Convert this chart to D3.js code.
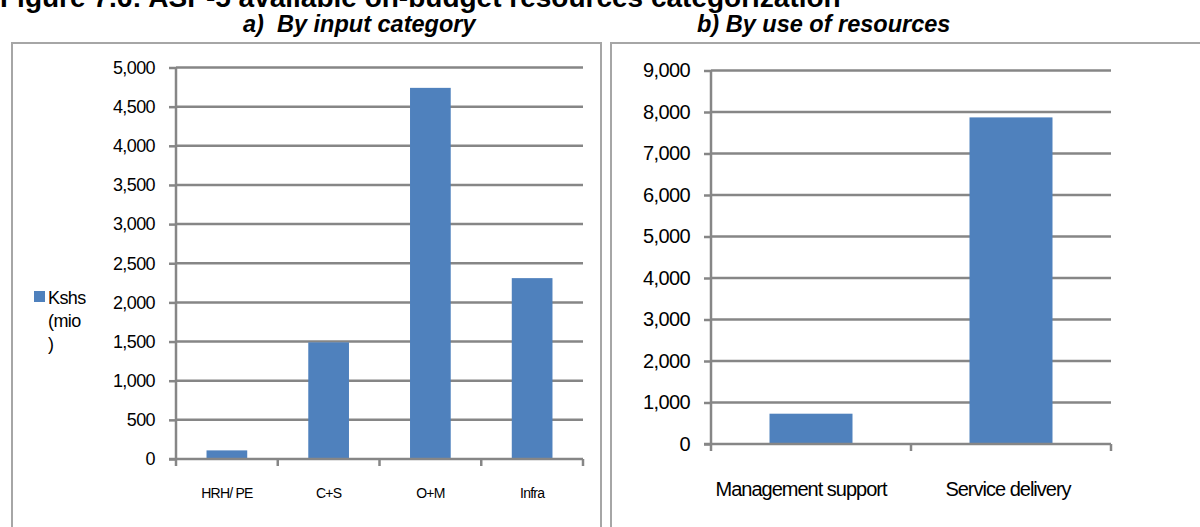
<!DOCTYPE html>
<html lang="en">
<head>
    <meta charset="UTF-8">
    <title>ASP-5 on-budget resources</title>
    <script src="https://d3js.org/d3.v7.min.js"></script>
    <style>
        body { margin: 0; background: #fff; }
        svg text { font-family: "Liberation Sans", Arial, sans-serif; fill: #000; }
        .title { font-weight: bold; font-size: 28px; }
        .sub { font-weight: bold; font-style: italic; font-size: 23.5px; }
    </style>
</head>
<body>
    <div id="chart"></div>
    <script>
        // Data
        const inputCats = ["HRH/ PE", "C+S", "O+M", "Infra"];
        const inputVals = [110, 1490, 4740, 2310];
        const inputTicks = [0, 500, 1000, 1500, 2000, 2500, 3000, 3500, 4000, 4500, 5000];

        const useCats = ["Management support", "Service delivery"];
        const useVals = [730, 7870];
        const useTicks = [0, 1000, 2000, 3000, 4000, 5000, 6000, 7000, 8000, 9000];

        const width = 1200, height = 527;
        const barColor = "#4f81bd";
        const gridColor = "#868686";
        const fmt = d3.format(",");

        const svg = d3.select("#chart").append("svg")
            .attr("width", width).attr("height", height);

        // Figure title (cut at the top of the picture)
        svg.append("text").attr("class", "title")
            .attr("x", 0).attr("y", 7)
            .text("Figure 7.6: ASP-5 available on-budget resources categorization");

        // Panel frames
        svg.append("rect").attr("x", 12).attr("y", 43).attr("width", 589).attr("height", 500)
            .attr("fill", "none").attr("stroke", "#a6a6a6").attr("stroke-width", 2);
        svg.append("rect").attr("x", 611).attr("y", 43).attr("width", 600).attr("height", 500)
            .attr("fill", "none").attr("stroke", "#a6a6a6").attr("stroke-width", 2);

        // Subtitles
        svg.append("text").attr("class", "sub").attr("x", 243).attr("y", 32).text("a)");
        svg.append("text").attr("class", "sub").attr("x", 277).attr("y", 32).text("By input category");
        svg.append("text").attr("class", "sub").attr("x", 697).attr("y", 32).text("b) By use of resources");

        function panel(cfg) {
            const x = d3.scaleBand().domain(cfg.cats).range([cfg.x0, cfg.x1]).padding(0);
            const y = d3.scaleLinear().domain([0, cfg.max]).range([cfg.y0, cfg.y1]);
            const g = svg.append("g");

            // gridlines
            g.selectAll(".grid").data(cfg.ticks.filter(d => d > 0)).join("line")
                .attr("x1", cfg.x0).attr("x2", cfg.x1)
                .attr("y1", d => y(d)).attr("y2", d => y(d))
                .attr("stroke", gridColor).attr("stroke-width", 2.5);

            // y axis
            const ya = g.append("g").attr("transform", `translate(${cfg.x0},0)`)
                .call(d3.axisLeft(y).tickValues(cfg.ticks).tickSize(7).tickPadding(cfg.pad).tickFormat(fmt));
            ya.select(".domain").attr("stroke", gridColor).attr("stroke-width", 2.5)
                .attr("d", `M0,${cfg.y0}V${cfg.y1}`);
            ya.selectAll(".tick line").attr("stroke", gridColor).attr("stroke-width", 2.5);
            ya.selectAll(".tick text").attr("font-size", cfg.tickFont + "px")
                .attr("letter-spacing", cfg.tickLs + "px")
                .attr("font-family", "Liberation Sans, Arial, sans-serif").attr("fill", "#000");

            // bars
            g.selectAll(".bar").data(cfg.vals).join("rect")
                .attr("x", (d, i) => x(cfg.cats[i]) + x.bandwidth() * (1 - cfg.bw) / 2)
                .attr("width", x.bandwidth() * cfg.bw)
                .attr("y", d => y(d))
                .attr("height", d => cfg.y0 - y(d))
                .attr("fill", barColor);

            // x axis
            const bounds = cfg.cats.map(c => x(c)).concat([cfg.x1]);
            g.append("line").attr("x1", cfg.x0 - 7).attr("x2", cfg.x1)
                .attr("y1", cfg.y0).attr("y2", cfg.y0)
                .attr("stroke", gridColor).attr("stroke-width", 2.5);
            g.selectAll(".xt").data(bounds).join("line")
                .attr("x1", d => d).attr("x2", d => d)
                .attr("y1", cfg.y0).attr("y2", cfg.y0 + 7)
                .attr("stroke", gridColor).attr("stroke-width", 2.5);
            g.selectAll(".xl").data(cfg.cats).join("text")
                .attr("x", (d, i) => x(d) + x.bandwidth() / 2 + cfg.labelShift[i])
                .attr("y", cfg.labelY)
                .attr("text-anchor", "middle")
                .attr("font-size", cfg.catFont + "px")
                .attr("letter-spacing", cfg.catLs + "px")
                .text(d => d);
            return g;
        }

        panel({
            cats: inputCats, vals: inputVals, ticks: inputTicks, max: 5000,
            x0: 176, x1: 583, y0: 459, y1: 67.5, bw: 0.4,
            pad: 14, tickFont: 18, tickLs: -0.6,
            labelY: 498, catFont: 14, catLs: -0.8, labelShift: [0, 0, 0, 0]
        });

        panel({
            cats: useCats, vals: useVals, ticks: useTicks, max: 9000,
            x0: 711, x1: 1111, y0: 444, y1: 70.5, bw: 0.415,
            pad: 14, tickFont: 20, tickLs: -0.6,
            labelY: 496, catFont: 20, catLs: -1, labelShift: [-10, -3]
        });

        // Legend for panel a
        const leg = svg.append("g");
        leg.append("rect").attr("x", 34).attr("y", 291).attr("width", 11).attr("height", 11)
            .attr("fill", barColor);
        leg.selectAll("text").data(["Kshs", "(mio", ")"]).join("text")
            .attr("x", 48).attr("y", (d, i) => 304 + i * 23)
            .attr("font-size", "18px").attr("letter-spacing", "-0.6px")
            .text(d => d);
    </script>
</body>
</html>
